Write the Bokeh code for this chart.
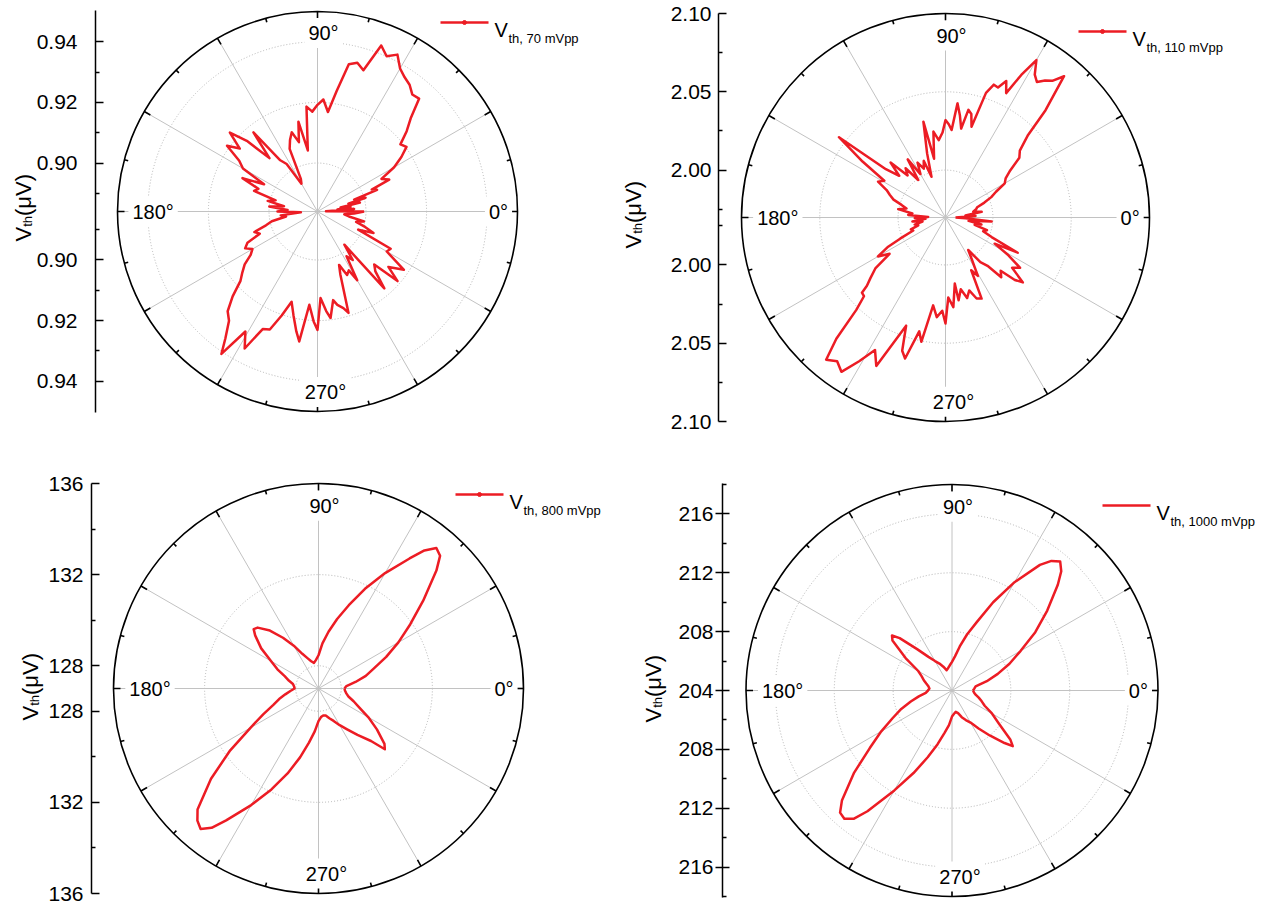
import math
from bokeh.plotting import figure
from bokeh.layouts import column, row
from bokeh.models import Range1d, FixedTicker, CustomJSTickFormatter, Label
from bokeh.embed import file_html
from bokeh.resources import INLINE

# ---------------------------------------------------------------------------
# Threshold voltage versus in-plane angle, four excitation amplitudes
# ---------------------------------------------------------------------------

# 70 mVpp  (angle in degrees, V_th in µV)
angle_70 = [0, 2, 4, 6, 8, 10, 12, 14, 16, 18, 20, 22, 24,
            27, 30, 33, 36, 39, 42, 45, 48, 51, 54, 57, 60, 63, 66, 69, 72,
            75, 78, 81, 84, 87, 90, 93, 96, 99, 102, 105, 108, 111, 114, 117,
            120, 123, 126, 129, 132, 135, 138, 141, 144, 147, 150, 153, 156,
            159, 162, 165, 168, 171, 174, 177, 180, 183, 186, 189, 192, 195,
            198, 201, 204, 207, 210, 213, 216, 219, 222, 225, 228, 231, 234,
            236, 239, 242, 245, 248, 251, 254, 257, 260,
            262, 265, 268, 270, 272, 275, 277, 280, 282, 285, 287, 290, 292,
            295, 298, 300, 303, 306, 309, 311, 314, 317, 319, 322, 326, 330,
            333, 336, 339, 342, 345, 348, 351, 354, 357]
vth_70 = [0.8994, 0.8868, 0.8961, 0.8906, 0.8950, 0.8917, 0.8983, 0.8945, 0.9005, 0.8967, 0.9049, 0.9033, 0.9099,
          0.9077, 0.9132, 0.9170, 0.9203, 0.9192, 0.9236, 0.9275, 0.9341, 0.9337, 0.9357, 0.9368, 0.9385, 0.9421, 0.9401, 0.9427, 0.9330,
          0.9348, 0.9337, 0.9242, 0.9170, 0.9210, 0.9192, 0.9170, 0.9188, 0.9044, 0.9143, 0.9077, 0.9115, 0.9093, 0.9066, 0.8961,
          0.8946, 0.9027, 0.9049, 0.9176, 0.9077, 0.9170, 0.9229, 0.9170, 0.9209, 0.9148, 0.9124, 0.9038, 0.9111,
          0.9049, 0.9060, 0.8983, 0.9008, 0.8952, 0.9000, 0.8939, 0.8972, 0.8895, 0.8962, 0.8945, 0.8994, 0.9016,
          0.9059, 0.9044, 0.9093, 0.9108, 0.9088, 0.9103, 0.9137, 0.9159, 0.9182, 0.9236, 0.9283, 0.9304, 0.9357,
          0.9407, 0.9302, 0.9352, 0.9268, 0.9260, 0.9203, 0.9150, 0.9192, 0.9242,
          0.9273, 0.9149, 0.9203, 0.9231, 0.9126, 0.9170, 0.9194, 0.9137, 0.9155, 0.9170, 0.9190, 0.9060, 0.9030,
          0.9071, 0.9060, 0.9102, 0.9016, 0.9038, 0.8981, 0.9176, 0.9115, 0.9096, 0.9190, 0.9137, 0.9184, 0.9104,
          0.9111, 0.8987, 0.9038, 0.9005, 0.8972, 0.8997, 0.8945, 0.8929, 0.8961]

# 110 mVpp
angle_110 = [0, 3, 6, 9, 12, 15, 18, 21, 24, 27, 30, 33, 36, 39, 42, 45,
             47, 50, 52, 54, 56, 58, 60, 62, 64, 66, 68, 70, 72, 74, 76, 78,
             80, 82, 84, 86, 88, 90, 92, 95, 98, 101, 103, 106, 109, 111, 114,
             117, 120, 123, 126, 129, 132, 135, 138, 141, 143, 146, 149, 152,
             155, 158, 161, 164, 167, 170, 173, 176, 178, 181, 184, 187, 190,
             193, 196, 199, 202, 205, 207, 210, 213, 216, 219, 221, 222, 224,
             226, 228, 230, 233, 236, 239, 242, 245, 247, 250, 252, 254, 257,
             259, 262, 265, 268, 270, 272, 275, 278, 279, 282, 285, 288, 291,
             294, 296, 299, 302, 305, 308, 311, 313, 316, 318, 320, 323, 326,
             329, 332, 334, 337, 340, 343, 346, 349, 352, 355, 358]
vth_110 = [1.9761, 1.9889, 1.9825, 1.9931, 1.9878, 1.9899, 1.9910, 1.9963, 2.0017, 2.0059, 2.0134, 2.0155, 2.0208, 2.0304, 2.0336, 2.0443,
           2.0634, 2.0875, 2.0805, 2.0779, 2.0741, 2.0773, 2.0858, 2.0728, 2.0581, 2.0651, 2.0592, 2.0600, 2.0534, 2.0300, 2.0379, 2.0400,
           2.0274, 2.0357, 2.0430, 2.0257, 2.0293, 2.0319, 2.0240, 2.0193, 2.0251, 2.0080, 2.0325, 2.0123, 1.9972, 2.0085, 2.0038,
           2.0091, 2.0017, 2.0140, 1.9993, 2.0102, 2.0059, 2.0193, 2.0095, 2.0187, 2.0549, 2.0336, 2.0153, 2.0185,
           2.0112, 2.0080, 2.0048, 1.9989, 1.9953, 2.0004, 1.9910, 1.9936, 1.9808, 1.9893, 1.9825, 1.9910, 1.9846,
           1.9899, 1.9878, 1.9931, 1.9919, 2.0017, 2.0108, 2.0195, 2.0123, 2.0251, 2.0315, 2.0362, 2.0415, 2.0421,
           2.0517, 2.0739, 2.0883, 2.0847, 2.0886, 2.0768, 2.0656, 2.0743, 2.0592, 2.0432, 2.0592, 2.0634, 2.0443,
           2.0506, 2.0264, 2.0336, 2.0293, 2.0374, 2.0208, 2.0272, 2.0123, 2.0232, 2.0166, 2.0230, 2.0187, 2.0251,
           2.0264, 2.0072, 2.0123, 2.0017, 1.9950, 2.0059, 2.0106, 2.0219, 2.0187, 2.0293, 2.0342, 2.0230, 2.0272,
           2.0166, 2.0053, 2.0210, 2.0017, 1.9953, 1.9974, 1.9889, 1.9931, 1.9846, 1.9993, 1.9825]

# 800 mVpp
angle_800 = [0, 5, 10, 15, 20, 25, 30, 35, 40, 45, 47.5, 50, 52.5, 55, 60, 65,
             70, 75, 80, 85, 90, 95, 100, 105, 110, 115, 120, 125, 130, 135,
             137.5, 140, 145, 150, 155, 160, 165, 170, 175, 180, 185, 190, 195,
             200, 205, 210, 215, 220, 225, 227.5, 230, 232.5, 235, 240, 245,
             250, 255, 260, 265, 270, 275, 280, 285, 290, 295, 300, 305, 310,
             315, 317.5, 320, 325, 330, 335, 340, 345, 350, 355]
vth_800 = [128.14, 128.23, 128.65, 129.15, 129.59, 130.28, 131.05, 131.92, 133.00, 134.32, 134.90, 135.05, 134.64, 133.97, 132.85, 131.83,
           130.89, 130.16, 129.53, 128.99, 128.46, 128.26, 128.14, 128.24, 128.42, 128.68, 129.17, 129.72, 130.32, 130.78,
           130.86, 130.63, 130.07, 129.40, 128.99, 128.58, 128.35, 128.14, 128.08, 128.05, 128.24, 128.48, 128.79,
           129.11, 129.68, 130.45, 131.73, 133.16, 134.51, 134.87, 135.05, 134.71, 134.07, 132.91, 131.89,
           130.97, 130.13, 129.41, 128.89, 128.43, 128.26, 128.20, 128.23, 128.39, 128.57, 128.86, 129.19, 129.66,
           130.26, 130.95, 130.78, 130.13, 129.53, 128.98, 128.64, 128.36, 128.24, 128.17]

# 1000 mVpp
angle_1000 = [0, 5, 10, 15, 20, 25, 30, 35, 40, 45, 47.5, 50, 52.5, 55, 60, 65,
              70, 75, 80, 85, 90, 95, 100, 105, 110, 115, 120, 125, 130, 135,
              137.5, 140, 145, 150, 155, 160, 165, 170, 175, 180, 185, 190, 195,
              200, 205, 210, 215, 220, 225, 227.5, 230, 232.5, 235, 240, 245,
              250, 255, 260, 265, 270, 275, 280, 285, 290, 295, 300, 305, 310,
              315, 317.5, 320, 325, 330, 335, 340, 345, 350, 355]
vth_1000 = [205.43, 205.52, 205.63, 206.45, 207.31, 208.31, 209.39, 210.91, 212.45, 214.17, 214.99, 215.44, 215.10, 214.42, 212.50, 210.62,
            208.96, 207.94, 207.04, 206.33, 205.95, 205.72, 205.54, 205.43, 205.72, 206.02, 206.31, 206.79, 207.65, 209.03,
            209.53, 209.28, 207.85, 206.65, 206.27, 206.04, 205.81, 205.63, 205.54, 205.63, 205.79, 206.29, 206.90,
            207.67, 208.46, 209.55, 210.82, 212.68, 214.58, 215.26, 215.38, 214.99, 214.02, 211.84, 210.19,
            208.83, 207.78, 206.92, 206.36, 205.77, 205.59, 205.47, 205.59, 205.93, 206.22, 206.52, 207.15, 207.99,
            209.05, 209.60, 209.17, 207.87, 207.15, 206.45, 206.15, 205.88, 205.63, 205.50]

# radial axis values (µV): major ticks, minor ticks, dotted rings
major_70, minor_70, rings_70 = [0.90, 0.92, 0.94], [0.89, 0.91, 0.93], [0.90, 0.92, 0.94]
major_110, minor_110, rings_110 = [2.00, 2.05, 2.10], [1.975, 2.025, 2.075], [2.00, 2.05]
major_800, minor_800, rings_800 = [128, 132, 136], [130, 134], [128, 132]
major_1000, minor_1000, rings_1000 = [204, 208, 212, 216], [206, 210, 214, 218], [208, 212, 216]

legend_70 = "th, 70 mVpp"
legend_110 = "th, 110 mVpp"
legend_800 = "th, 800 mVpp"
legend_1000 = "th, 1000 mVpp"

RED = "#ec1c24"
FONT = "Liberation Sans"
SPOKE = "#c2c2c2"
RING = "#b4b4b4"


def polar_panel(ang, vth, v_center, v_edge, major, minor, rings, digits, sub_text,
                with_marker, fig_box, centre, radius_px, axis_x, frame_y,
                tick_in, tick_out, standoff, legend_at, title_at):
    fx, fy, fw, fh = fig_box
    cx, cy = centre
    top, bottom = frame_y
    k = radius_px / (v_edge - v_center)          # screen px per µV

    def X(sx):
        return (sx - cx) / k

    def Y(sy):
        return (cy - sy) / k

    # the plotting frame covers the whole figure box; the radial axis is
    # pinned at a fixed x position inside it
    p = figure(width=fw, height=fh,
               x_range=Range1d(X(fx), X(fx + fw)),
               y_range=Range1d(Y(fy + fh), Y(fy)),
               x_axis_location=None, y_axis_location="left",
               toolbar_location=None, output_backend="svg",
               min_border=0, min_border_left=0, min_border_right=0,
               min_border_top=0, min_border_bottom=0,
               outline_line_color=None, background_fill_color="white",
               border_fill_color="white")
    p.grid.visible = False

    rmax = v_edge - v_center

    # dotted rings
    rr = [r - v_center for r in rings]
    p.circle(x=[0] * len(rr), y=[0] * len(rr), radius=rr, fill_color=None,
             line_color=RING, line_dash="1 2", line_width=1)

    # 30° spokes
    sp = [math.radians(a) for a in range(0, 360, 30)]
    p.segment(x0=[0] * len(sp), y0=[0] * len(sp),
              x1=[rmax * math.cos(t) for t in sp], y1=[rmax * math.sin(t) for t in sp],
              line_color=SPOKE, line_width=1)

    # data curve (closed)
    xs = [(v - v_center) * math.cos(math.radians(a)) for a, v in zip(ang, vth)]
    ys = [(v - v_center) * math.sin(math.radians(a)) for a, v in zip(ang, vth)]
    xs.append(xs[0])
    ys.append(ys[0])
    p.line(xs, ys, line_color=RED, line_width=2.5, line_join="round")

    # outer ring with inward angular ticks every 15°
    p.circle(x=[0], y=[0], radius=[rmax], fill_color=None, line_color="black", line_width=1.6)
    tdeg = list(range(0, 360, 15))
    tl = [7 if a % 30 == 0 else 4 for a in tdeg]
    p.segment(x0=[rmax * math.cos(math.radians(a)) for a in tdeg],
              y0=[rmax * math.sin(math.radians(a)) for a in tdeg],
              x1=[(rmax - L / k) * math.cos(math.radians(a)) for a, L in zip(tdeg, tl)],
              y1=[(rmax - L / k) * math.sin(math.radians(a)) for a, L in zip(tdeg, tl)],
              line_color="black", line_width=1.6)

    # angular labels
    R = radius_px
    for txt, dx, dy in [("90°", 6, -0.892 * R), ("270°", 8, 0.903 * R),
                        ("180°", -0.822 * R, 0), ("0°", 0.905 * R, 0)]:
        p.add_layout(Label(x=X(cx + dx), y=Y(cy + dy), text=txt, text_font=FONT,
                           text_font_size="20px", text_align="center",
                           text_baseline="middle", text_color="black",
                           background_fill_color="white", padding=4))

    # legend
    lx, ly = legend_at
    p.line([X(lx), X(lx + 48)], [Y(ly), Y(ly)], line_color=RED, line_width=2.5)
    if with_marker:
        p.scatter([X(lx + 24)], [Y(ly)], size=4, color=RED)
    p.add_layout(Label(x=X(lx + 54), y=Y(ly + 7.5), text="V", text_font=FONT,
                       text_font_size="20px", text_align="left",
                       text_baseline="alphabetic", text_color="black"))
    p.add_layout(Label(x=X(lx + 68), y=Y(ly + 15.5), text=sub_text, text_font=FONT,
                       text_font_size="13px", text_align="left",
                       text_baseline="alphabetic", text_color="black"))

    # rotated axis title  V_th(µV)
    tx, ty = title_at
    y0 = ty + 34
    for txt, size, ddx, ddy in [("V", 22, 0, 0), ("th", 13, 4, -14.7), ("(μV)", 22, 0, -25.5)]:
        p.add_layout(Label(x=X(tx + ddx), y=Y(y0 + ddy), text=txt, text_font=FONT,
                           text_font_size=f"{size}px", text_align="left",
                           text_baseline="alphabetic", angle=90, angle_units="deg",
                           text_color="black"))

    # mirrored radial axis on the left
    mj = []
    for t in major:
        d = t - v_center
        mj += [0.0] if abs(d) < 1e-9 else [d, -d]
    mn = []
    for t in minor:
        d = t - v_center
        mn += [d, -d]
    ax = p.yaxis[0]
    ax.fixed_location = X(axis_x)
    ax.bounds = (Y(bottom), Y(top))
    ax.ticker = FixedTicker(ticks=sorted(mj), minor_ticks=sorted(mn))
    ax.formatter = CustomJSTickFormatter(args=dict(c=v_center, n=digits),
                                         code="return (c + Math.abs(tick)).toFixed(n);")
    ax.major_label_text_font = FONT
    ax.major_label_text_font_size = "21px"
    ax.major_label_text_color = "black"
    ax.major_label_standoff = standoff
    ax.major_tick_in = tick_in
    ax.major_tick_out = tick_out
    ax.minor_tick_in = 4
    ax.minor_tick_out = 0
    ax.axis_line_width = 1.5
    ax.axis_line_color = "black"
    ax.major_tick_line_width = 1.5
    ax.minor_tick_line_width = 1.5
    ax.major_tick_line_color = "black"
    ax.minor_tick_line_color = "black"
    return p


p70 = polar_panel(angle_70, vth_70, 0.884, 0.950, major_70, minor_70, rings_70, 2, legend_70, True,
                  (0, 0, 620, 450), (317, 211), 200, 95, (10, 412), 8, 0, 18, (440, 22), (23, 207))
p110 = polar_panel(angle_110, vth_110, 1.9697, 2.10, major_110, minor_110, rings_110, 2, legend_110, True,
                   (620, 0, 645, 450), (945, 217), 204, 718, (13, 421), 8, 0, 7, (1078, 31), (633, 214))
p800 = polar_panel(angle_800, vth_800, 127.0, 136.0, major_800, minor_800, rings_800, 0, legend_800, True,
                   (0, 450, 620, 455), (318, 688), 205, 91, (483, 893), 8, 0, 8, (455, 494), (30, 686))
p1000 = polar_panel(angle_1000, vth_1000, 204.0, 218.0, major_1000, minor_1000, rings_1000, 0, legend_1000, False,
                    (620, 450, 645, 455), (951.5, 690), 206, 722, (483, 897), 7, 7, 2, (1102, 505), (653, 688))

layout = column(row(p70, p110), row(p800, p1000))

open("out.html", "w").write(file_html(layout, INLINE))
